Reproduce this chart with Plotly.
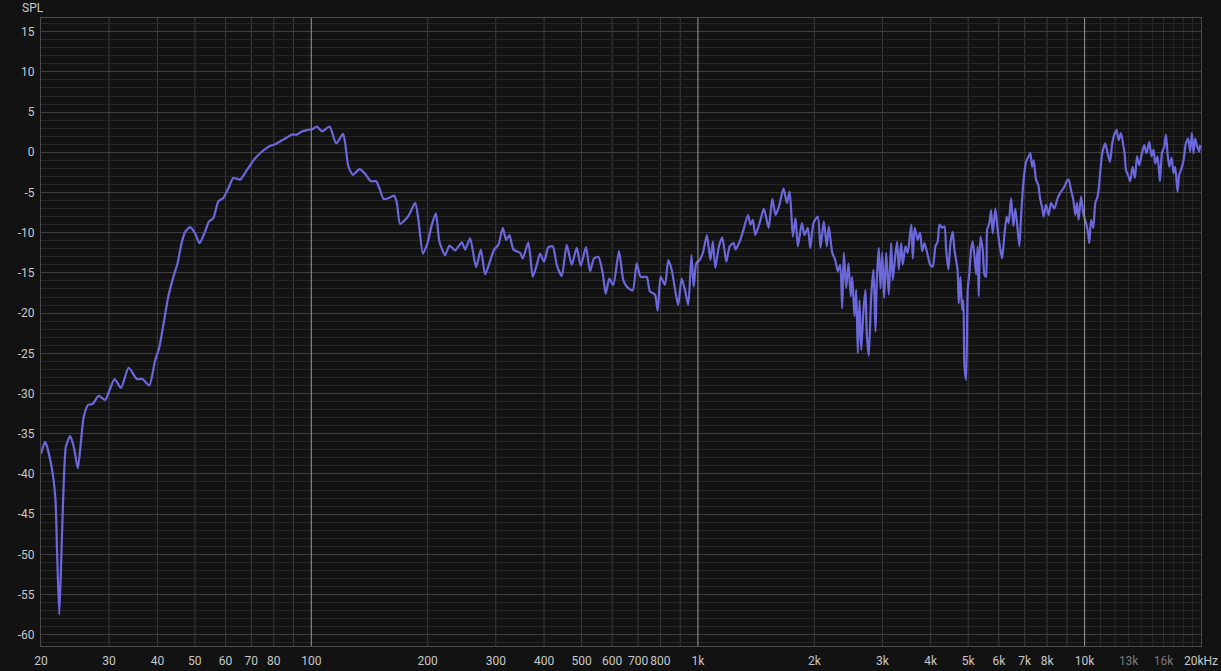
import plotly.graph_objects as go

freq = [20.0, 20.5, 21.3, 21.8, 22.0, 22.3, 22.6, 22.9, 23.2, 23.8, 24.3, 24.9, 25.3, 25.8, 26.5,
        27.2, 28.2, 29.3, 29.9, 31.0, 32.2, 33.7, 35.4, 36.6, 38.1, 39.5, 40.4, 41.5, 42.7, 44.0,
        45.1, 46.2, 47.2, 48.6, 50.1, 51.4, 53.1, 54.4, 55.8, 57.5, 59.2, 61.0, 62.9, 65.5, 68.2,
        70.9, 74.6, 78.4, 80.7, 84.8, 89.2, 91.8, 94.6, 98.4, 101.0, 103.4, 106.6, 111.5, 116.0,
        120.8, 122.4, 124.8, 128.2, 133.3, 137.9, 142.6, 147.2, 150.1, 153.8, 158.4, 163.9, 166.5,
        169.8, 178.4, 185.7, 189.3, 194.4, 199.8, 205.1, 210.0, 214.5, 221.9, 227.7, 235.5, 245.1,
        250.0, 257.5, 266.9, 274.5, 281.6, 290.1, 297.1, 304.8, 312.9, 319.1, 325.4, 333.2, 346.8,
        352.4, 364.3, 374.0, 383.0, 390.6, 400.0, 410.4, 421.2, 431.4, 444.4, 457.8, 471.6, 485.9,
        497.6, 513.5, 525.9, 538.6, 552.5, 567.2, 577.4, 589.9, 604.1, 624.9, 641.1, 654.2, 678.0,
        694.3, 711.1, 736.9, 751.5, 774.2, 786.7, 800.9, 821.7, 838.0, 855.1, 877.2, 889.3, 907.5,
        925.5, 943.9, 962, 975, 990, 1010, 1030, 1055, 1077, 1093, 1109, 1133, 1156, 1184, 1208,
        1237, 1251, 1282, 1307, 1347, 1368, 1387, 1407, 1444, 1481, 1523, 1557, 1588, 1619, 1665,
        1698, 1726, 1743, 1760, 1788, 1813, 1857, 1887, 1924, 1952, 1990, 2042, 2075, 2116, 2154,
        2180, 2225, 2265, 2300, 2333, 2361, 2384, 2418, 2451, 2484, 2506, 2540, 2566, 2591, 2617,
        2644, 2680, 2712, 2733, 2766, 2806, 2844, 2879, 2901, 2936, 2965, 2996, 3031, 3068, 3116,
        3160, 3191, 3236, 3275, 3307, 3354, 3386, 3441, 3488, 3539, 3566, 3594, 3637, 3702, 3756,
        3801, 3853, 3929, 3986, 4048, 4114, 4170, 4213, 4281, 4340, 4384, 4444, 4498, 4560, 4606,
        4653, 4697, 4725, 4773, 4822, 4859, 4888, 4938, 4985, 5036, 5087, 5136, 5188, 5241, 5291,
        5322, 5377, 5451, 5506, 5562, 5595, 5672, 5730, 5785, 5878, 5959, 6020, 6118, 6202, 6287,
        6362, 6454, 6543, 6621, 6712, 6781, 6850, 6915, 6985, 7056, 7166, 7239, 7313, 7383, 7489,
        7592, 7669, 7761, 7836, 7948, 8072, 8188, 8351, 8516, 8690, 8863, 8985, 9092, 9223, 9350,
        9462, 9558, 9650, 9789, 9923, 10084, 10181, 10284, 10389, 10532, 10658, 10805, 10915,
        11026, 11131, 11311, 11467, 11632, 11771, 11933, 12098, 12243, 12419, 12590, 12688, 12794,
        12993, 13125, 13306, 13497, 13659, 13847, 14071, 14265, 14461, 14696, 14898, 15076, 15230,
        15439, 15661, 15849, 16067, 16230, 16386, 16552, 16780, 16981, 17154, 17390, 17567, 17809,
        18022, 18281, 18533, 18755, 18945, 19127, 19322, 19553, 19787, 19905]

spl = [-37.5, -36.0, -39.1, -43.2, -49.4, -57.5, -49.4, -41.1, -36.6, -35.3, -36.6, -39.3, -36.6,
       -32.9, -31.4, -31.3, -30.3, -30.8, -29.9, -28.2, -29.3, -26.8, -28.2, -28.2, -29.0, -25.8,
       -24.4, -21.3, -17.9, -15.5, -13.8, -11.3, -9.9, -9.3, -10.1, -11.3, -9.9, -8.6, -8.2, -6.1,
       -5.7, -4.5, -3.2, -3.4, -2.2, -1.0, 0.1, 0.8, 1.0, 1.6, 2.2, 2.2, 2.6, 2.8, 2.9, 3.2, 2.6,
       3.2, 1.1, 2.3, 1.1, -1.8, -2.8, -2.1, -2.7, -3.6, -3.6, -4.5, -5.8, -5.7, -5.4, -6.3, -8.9,
       -7.9, -6.3, -8.4, -12.6, -11.3, -9.0, -7.6, -11.1, -12.8, -11.6, -12.2, -11.2, -12.1, -10.7,
       -14.3, -12.1, -15.2, -13.5, -12.1, -11.5, -9.4, -10.9, -10.3, -12.1, -12.5, -13.2, -11.2,
       -15.5, -14.0, -12.6, -13.6, -11.8, -11.7, -14.0, -15.4, -11.5, -14.0, -11.9, -14.1, -11.8,
       -14.8, -13.2, -13.0, -15.0, -17.6, -15.7, -16.5, -12.3, -15.9, -16.7, -17.2, -13.8, -15.5,
       -15.5, -17.3, -17.7, -19.7, -15.5, -16.5, -13.4, -14.6, -17.7, -19.0, -15.7, -17.1, -19.0,
       -12.8, -16.7, -13.8, -13.4, -12.5, -10.3, -13.4, -11.1, -14.4, -11.7, -10.6, -13.6, -11.7,
       -11.3, -12.1, -11.1, -9.9, -7.8, -9.0, -8.4, -10.3, -8.8, -7.0, -9.4, -5.8, -7.8, -6.8, -4.5,
       -6.3, -4.9, -7.4, -10.5, -8.2, -11.7, -8.8, -10.3, -9.4, -11.9, -8.8, -8.0, -11.9, -8.6,
       -11.7, -9.2, -12.5, -13.4, -14.8, -14.0, -19.4, -12.5, -16.9, -13.8, -17.9, -15.5, -20.4,
       -17.1, -25.0, -18.4, -24.6, -19.6, -17.1, -22.5, -25.3, -17.9, -14.6, -22.3, -15.9, -11.9,
       -16.9, -12.5, -18.1, -12.5, -17.7, -11.3, -15.9, -13.0, -11.1, -14.6, -11.3, -14.0, -11.7,
       -12.5, -10.0, -9.0, -13.2, -9.4, -10.9, -10.0, -12.3, -11.3, -12.8, -14.0, -14.2, -11.7,
       -11.1, -9.0, -9.4, -9.2, -12.1, -14.6, -11.3, -9.9, -12.1, -13.4, -14.8, -18.8, -15.5, -19.6,
       -18.4, -26.6, -28.3, -17.1, -15.0, -12.1, -11.1, -12.8, -15.2, -11.7, -17.9, -10.5, -12.1,
       -15.2, -15.5, -9.65, -8.8, -7.2, -10.1, -7.0, -9.65, -11.3, -13.2, -10.3, -8.0, -8.8, -5.7,
       -9.2, -7.0, -9.65, -11.7, -8.0, -4.9, -2.6, -1.2, -0.5, -0.1, -1.8, -1.0, -3.4, -4.1, -5.7,
       -6.8, -8.0, -6.5, -7.8, -6.3, -7.0, -5.7, -4.9, -4.3, -3.6, -3.4, -4.7, -5.9, -7.8, -6.3,
       -8.4, -5.5, -7.6, -8.8, -9.65, -11.3, -8.4, -9.4, -6.3, -5.5, -3.8, -1.4, 0.1, 1.1, -0.1,
       -1.2, 0.9, 2.2, 2.8, 1.5, 2.4, 0.9, -0.1, -2.2, -3.0, -3.6, -1.8, -3.2, -0.5, -1.6, -0.1,
       0.9, -0.1, 1.3, -0.5, 0.3, -1.4, -0.5, -3.6, -0.1, 0.7, 2.2, -0.1, -1.8, -0.7, -2.6, -1.8,
       -4.9, -2.8, -2.0, -1.0, 1.1, 1.7, 0.1, 2.4, -0.1, 1.7, 0.7, 0.1, 0.9]

# axis ticks
x_ticks = [20, 30, 40, 50, 60, 70, 80, 100, 200, 300, 400, 500, 600, 700, 800,
           1000, 2000, 3000, 4000, 5000, 6000, 7000, 8000, 10000, 13000, 16000, 20000]
x_labels = ["20", "30", "40", "50", "60", "70", "80", "100", "200", "300", "400", "500", "600",
            "700", "800", "1k", "2k", "3k", "4k", "5k", "6k", "7k", "8k", "10k",
            "<span style='color:#7a7a7a'>13k</span>", "<span style='color:#7a7a7a'>16k</span>",
            "20kHz"]
x_grid = [30, 40, 50, 60, 70, 80, 90, 200, 300, 400, 500, 600, 700, 800, 900,
          2000, 3000, 4000, 5000, 6000, 7000, 8000, 9000]
x_major = [100, 1000, 10000]
x_fine = [11000, 12000, 13000, 14000, 15000, 16000, 17000, 18000, 19000]
y_ticks = list(range(-60, 16, 5))
y_labels = [str(v) for v in y_ticks]

bg = "#121212"
txt = "#c8c8c8"

fig = go.Figure()
fig.add_trace(go.Scatter(
    x=freq, y=spl, mode="lines",
    line=dict(color="#6c68dc", width=2.2, shape="spline", smoothing=0.6),
    showlegend=False, hoverinfo="x+y"
))

# vertical grid lines, three strengths like REW
for f in x_fine:
    fig.add_shape(type="line", xref="x", yref="paper", x0=f, x1=f, y0=0, y1=1,
                  line=dict(color="#2c2c2c", width=1), layer="between")
for f in x_grid:
    fig.add_shape(type="line", xref="x", yref="paper", x0=f, x1=f, y0=0, y1=1,
                  line=dict(color="#3c3c3c", width=1), layer="between")
for f in x_major:
    fig.add_shape(type="line", xref="x", yref="paper", x0=f, x1=f, y0=0, y1=1,
                  line=dict(color="#9a9a9a", width=1), layer="above")

fig.update_layout(
    width=1221, height=671,
    paper_bgcolor=bg, plot_bgcolor=bg,
    margin=dict(l=41, r=20, t=18, b=25),
    font=dict(family="Roboto", size=12, color=txt),
    xaxis=dict(
        type="log", range=[1.30103, 4.30104],
        tickmode="array", tickvals=x_ticks, ticktext=x_labels,
        tickangle=0, automargin=False,
        showgrid=False, zeroline=False, ticks="",
        ticklabelstandoff=4,
        showline=True, mirror=True, linecolor="#4a4a4a", linewidth=1,
    ),
    yaxis=dict(
        range=[-61.4, 16.7], automargin=False,
        tickmode="array", tickvals=y_ticks, ticktext=y_labels,
        showgrid=True, gridcolor="#3e3e3e", gridwidth=1,
        zeroline=False, ticks="", ticklabelstandoff=3,
        showline=True, mirror=True, linecolor="#4a4a4a", linewidth=1,
        minor=dict(dtick=1, showgrid=True, gridcolor="#262626", gridwidth=1, ticks=""),
    ),
)

fig.add_annotation(
    text="SPL", xref="paper", yref="paper",
    x=-0.018, y=1.016, xanchor="left", yanchor="middle",
    showarrow=False, font=dict(size=12, color=txt)
)

# the page's default body margin would shift the chart by 8px
fig.write_html("out.html", config={"displayModeBar": False},
               post_script="document.body.style.margin='0';"
                           "document.body.style.background='#121212';")
